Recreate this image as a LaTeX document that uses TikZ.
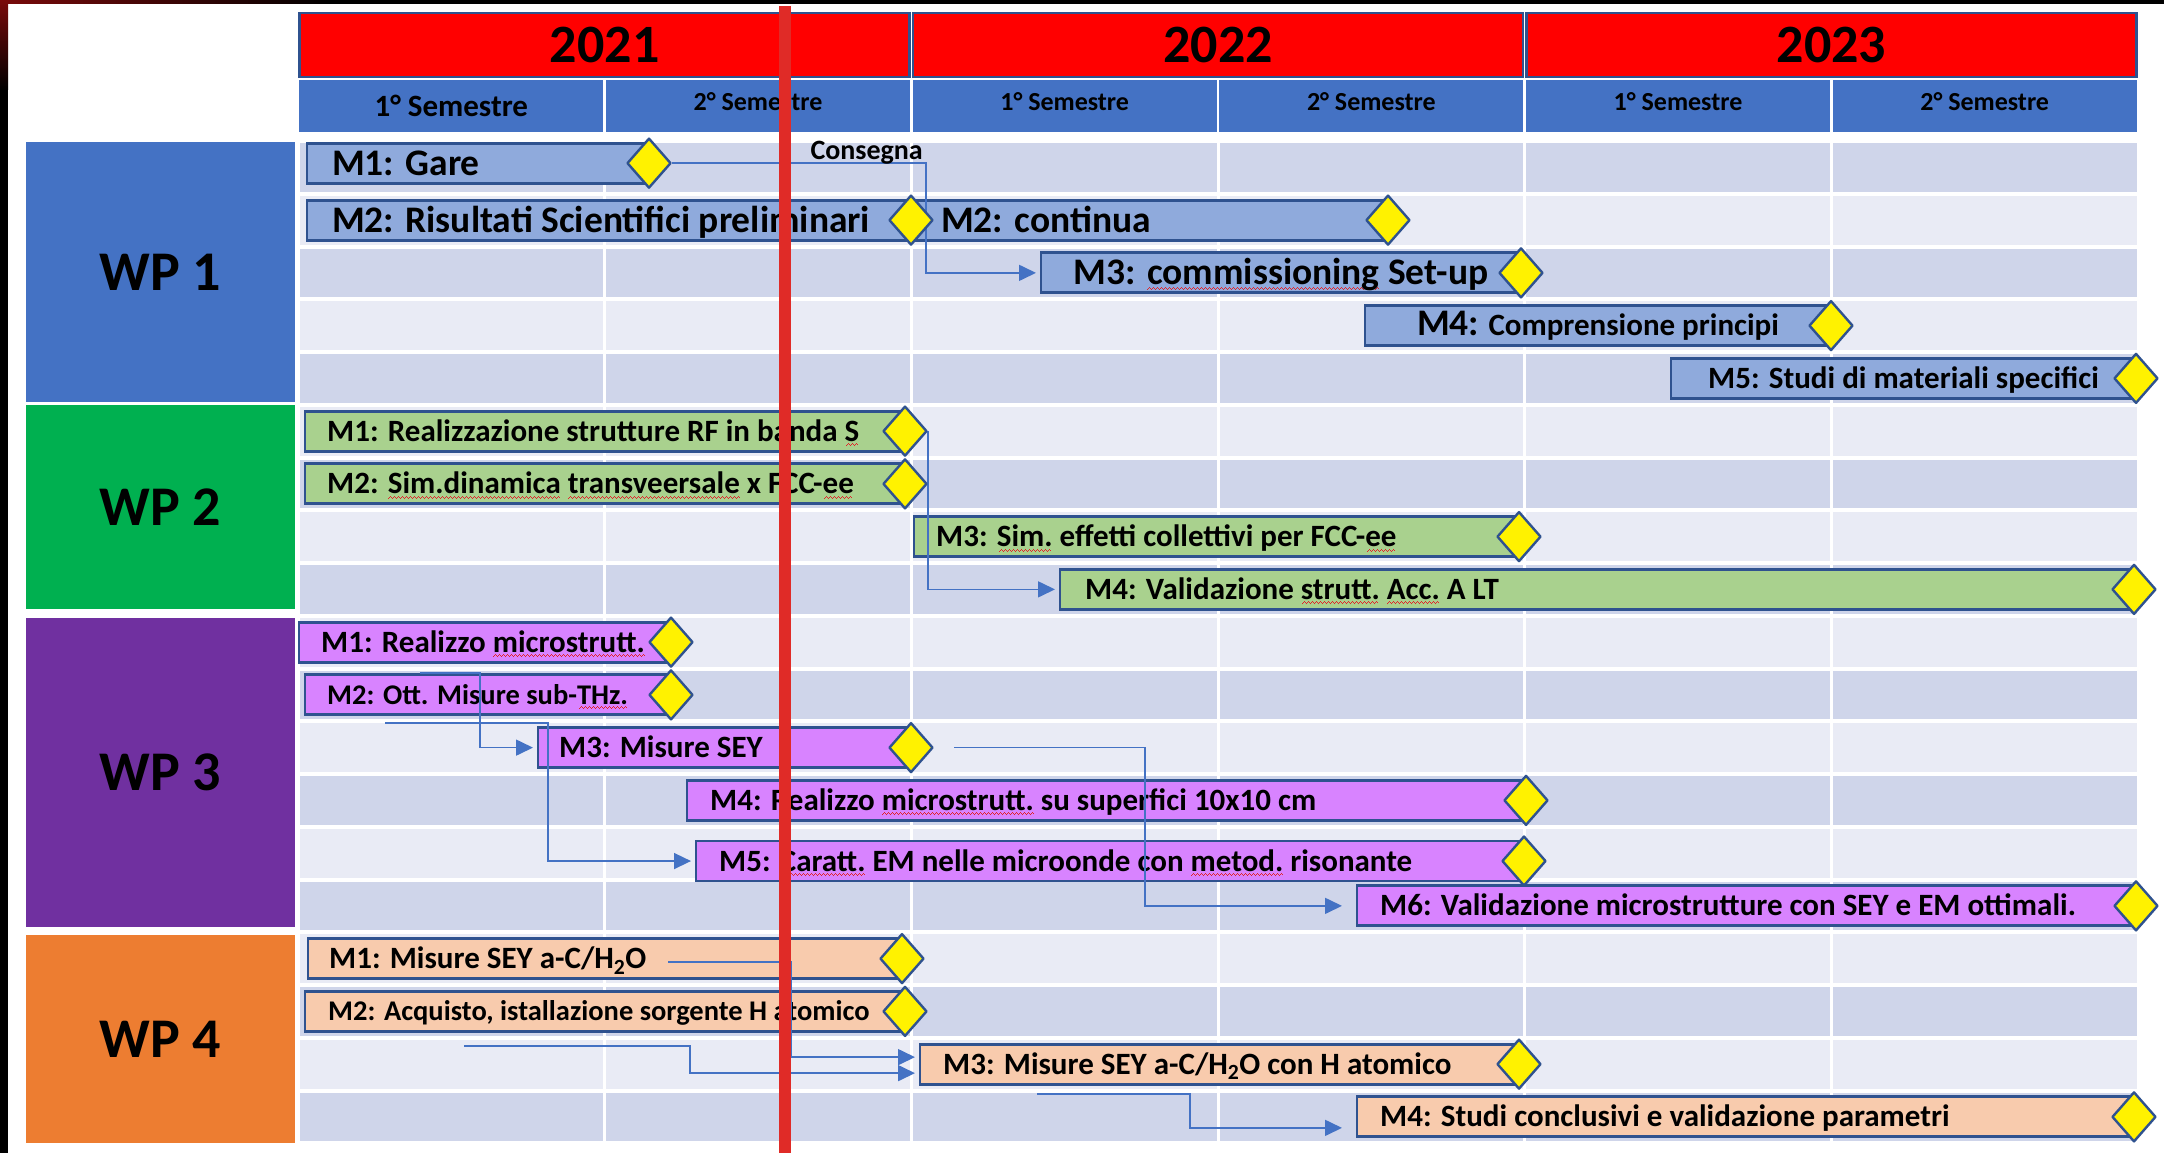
\documentclass[tikz,border=0pt]{standalone}
\usepackage{fontspec}
\setmainfont{Carlito}
\usetikzlibrary{positioning,shapes.geometric,arrows.meta}

\definecolor{annored}{HTML}{FF0000}
\definecolor{headline}{HTML}{2F528F}
\definecolor{semblue}{HTML}{4472C4}
\definecolor{rowdark}{HTML}{CFD5EA}
\definecolor{rowlight}{HTML}{E9EBF5}
\definecolor{wpA}{HTML}{4472C4}
\definecolor{wpB}{HTML}{00B050}
\definecolor{wpC}{HTML}{7030A0}
\definecolor{wpD}{HTML}{ED7D31}
\definecolor{barA}{HTML}{8FAADC}
\definecolor{barB}{HTML}{A9D18E}
\definecolor{barC}{HTML}{D883FF}
\definecolor{barD}{HTML}{F8CBAD}
\definecolor{linkblue}{HTML}{4472C4}
\definecolor{oggi}{HTML}{E02B27}
\definecolor{squig}{HTML}{E0242A}
\definecolor{corner}{HTML}{7A0A0A}

% onda rossa del correttore, fatta di piccoli filetti
\newcommand\wavecell{\hbox{\vrule width1pt height1pt depth0pt\raise1pt\hbox{\vrule width1pt height1pt depth0pt}\raise2pt\hbox{\vrule width1pt height1pt depth0pt}\raise1pt\hbox{\vrule width1pt height1pt depth0pt}}}
\newcommand\spell[1]{\setbox0\hbox{#1}\rlap{\smash{\lower5pt\hbox to\wd0{\color{squig}\cleaders\wavecell\hfil}}}\box0\relax}

\pgfdeclarelayer{bg}
\pgfdeclarelayer{links}
\pgfsetlayers{bg,links,main}

\begin{document}
\begin{tikzpicture}[x=1pt,y=-1pt,line join=round,
	declare function={yrow(\rw)=141+52.75*(\rw-0.5); xcol(\c)=298+306.67*\c;},
	year/.style={fill=annored,draw=headline,line width=2.5pt,minimum width=610pt,minimum height=64pt,inner sep=0pt,font=\fontsize{54}{60}\selectfont\bfseries},
	wpbox/.style={fill=#1,minimum width=269pt,inner sep=0pt,font=\fontsize{56}{60}\selectfont\bfseries},
	bar/.style={draw=headline,line width=2.8pt,fill=#1,minimum height=40pt,inner sep=0pt,outer sep=0pt,anchor=west},
	ms/.style={diamond,draw=headline,line width=2.4pt,fill=yellow,minimum width=44pt,minimum height=50pt,inner sep=0pt},
	bigtxt/.style={anchor=base west,inner sep=0pt,yshift=-12pt,font=\fontsize{37.5}{40}\selectfont\bfseries},
	txt/.style={anchor=base west,inner sep=0pt,yshift=-10pt,font=\fontsize{31}{34}\selectfont\bfseries},
	smalltxt/.style={anchor=base west,inner sep=0pt,yshift=-9.2pt,font=\fontsize{28.5}{32}\selectfont\bfseries},
	link/.style={draw=linkblue,line width=1.6pt,-{Triangle[length=17pt,width=16pt]},shorten >=5pt}]
	\useasboundingbox (0,0) rectangle (2164,1153);
	\begin{pgfonlayer}{bg}
		\fill[white] (0,0) rectangle (2164,1153);
		\fill[black] (0,0) rectangle (2164,4);
		\fill[black] (0,0) rectangle (8,1153);
		\shade[left color=corner,right color=black] (0,0) rectangle (330,4);
		\shade[top color=corner,bottom color=black] (0,0) rectangle (8,90);
		% anni e semestri
		\foreach \k/\yr in {0/2021,1/2022,2/2023}
			\node[year] (y\yr) at ({xcol(2*\k+1)},45) {\yr};
		\foreach \c in {0,...,5}
			\fill[semblue] ({xcol(\c)+1.2},80) rectangle ({xcol(\c+1)-1.2},132);
		\node[font=\fontsize{31}{34}\selectfont\bfseries] (s0) at ({xcol(0.5)},106) {1° Semestre};
		\foreach \c/\k in {1/2,2/1,3/2,4/1,5/2}
			\node[font=\fontsize{26}{30}\selectfont\bfseries] (s\c) at ({xcol(\c+0.5)},102) {\k° Semestre};
		% griglia
		\foreach \rw in {0,2,...,18}
			\foreach \c in {0,...,5}
				\fill[rowdark] ({xcol(\c)+1.5},{141+52.75*\rw+2}) rectangle ({xcol(\c+1)-1.5},{141+52.75*(\rw+1)-2});
		\foreach \rw in {1,3,...,17}
			\foreach \c in {0,...,5}
				\fill[rowlight] ({xcol(\c)+1.5},{141+52.75*\rw+2}) rectangle ({xcol(\c+1)-1.5},{141+52.75*(\rw+1)-2});
		\foreach \w/\ya/\yb/\col in {1/142/402/wpA,2/405/609/wpB,3/618/927/wpC,4/935/1143/wpD}
			\node[wpbox=\col,minimum height={(\yb-\ya)*1pt}] (wp\w) at (160.5,{(\ya+\yb)/2}) {WP \w};
		% WP 1
		\foreach \n/\xa/\xb/\rw in {11/307/649/0.92,12/307/911/2,12c/911/1388/2,13/1041/1521/3,14/1365/1831/4,15/1671/2136/5}
			\node[bar=barA,minimum width={(\xb-\xa)*1pt}] (b\n) at (\xa,{yrow(\rw)}) {};
		\node[bigtxt] (t11) at ([xshift=25pt]b11.west) {M1: Gare};
		\node[bigtxt] (t12) at ([xshift=25pt]b12.west) {M2: Risultati Scientifici preliminari};
		\node[bigtxt] (t12c) at ([xshift=30pt]b12c.west) {M2: continua};
		\node[bigtxt,anchor=base] (t13) at (b13.center) {M3: \spell{commissioning} Set-up};
		\node[txt,anchor=base] (t14) at (b14.center) {{\fontsize{37.5}{40}\selectfont M4:} Comprensione principi};
		\node[txt,anchor=base] (t15) at (b15.center) {M5: Studi di materiali specifici};
		% WP 2
		\foreach \n/\xa/\xb/\rw in {21/305/905/6,22/305/905/7,23/914/1519/8,24/1060/2134/9}
			\node[bar=barB,minimum width={(\xb-\xa)*1pt}] (b\n) at (\xa,{yrow(\rw)}) {};
		\node[txt] (t21) at ([xshift=22pt]b21.west) {M1: Realizzazione strutture RF in banda \spell{S}};
		\node[txt] (t22) at ([xshift=22pt]b22.west) {M2: \spell{Sim.dinamica} \spell{transveersale} x FCC-\spell{ee}};
		\node[txt] (t23) at ([xshift=22pt]b23.west) {M3: \spell{Sim.} effetti collettivi per FCC-\spell{ee}};
		\node[txt] (t24) at ([xshift=25pt]b24.west) {M4: Validazione \spell{strutt.} \spell{Acc.} A LT};
		% WP 3
		\foreach \n/\xa/\xb/\rw in {31/299/671/10,32/305/671/11,33/538/911/12,34/687/1526/13,35/696/1524/14.15,36/1357/2136/15}
			\node[bar=barC,minimum width={(\xb-\xa)*1pt}] (b\n) at (\xa,{yrow(\rw)}) {};
		\node[txt] (t31) at ([xshift=22pt]b31.west) {M1: Realizzo \spell{microstrutt.}};
		\node[smalltxt] (t32) at ([xshift=22pt]b32.west) {M2: Ott. Misure sub-\spell{THz.}};
		\node[txt] (t33) at ([xshift=21pt]b33.west) {M3: Misure SEY};
		\node[txt] (t34) at ([xshift=23pt]b34.west) {M4: Realizzo \spell{microstrutt.} su superfici 10x10 cm};
		\node[txt] (t35) at ([xshift=23pt]b35.west) {M5: \spell{Caratt.} EM nelle microonde con \spell{metod.} risonante};
		\node[txt] (t36) at ([xshift=23pt]b36.west) {M6: Validazione microstrutture con SEY e EM ottimali.};
		% WP 4
		\foreach \n/\xa/\xb/\rw in {41/308/902/16,42/305/905/17,43/920/1519/18,44/1357/2134/19}
			\node[bar=barD,minimum width={(\xb-\xa)*1pt}] (b\n) at (\xa,{yrow(\rw)}) {};
		\node[txt] (t41) at ([xshift=21pt]b41.west) {M1: Misure SEY a-C/H\textsubscript{2}O};
		\node[smalltxt] (t42) at ([xshift=23pt]b42.west) {M2: Acquisto, istallazione sorgente H atomico};
		\node[txt] (t43) at ([xshift=23pt]b43.west) {M3: Misure SEY a-C/H\textsubscript{2}O con H atomico};
		\node[txt] (t44) at ([xshift=23pt]b44.west) {M4: Studi conclusivi e validazione parametri};
	\end{pgfonlayer}
	% milestone
	\foreach \n in {11,12,12c,13,14,15,21,22,23,24,31,32,33,34,35,36,41,42,43,44}
		\node[ms] (d\n) at (b\n.east) {};
	\begin{pgfonlayer}{links}
		\coordinate (kc) at ([xshift=15pt]d12.center |- d11.east);
		\draw[link] (d11.east) -- (kc) |- (b13.west);
		\node[font=\fontsize{28}{30}\selectfont\bfseries,anchor=base east,inner sep=0pt] (cons) at ([shift={(-3pt,4pt)}]kc) {Consegna};
		\draw[link] (d21.east) |- (b24.west);
		\coordinate (s31) at (420,673);
		\draw[link] (s31) -| ([xshift=-58pt]b33.west) -- (b33.west);
		\coordinate (s32) at (385,723);
		\draw[link] (s32) -| ([xshift=-148pt]b35.west) -- (b35.west);
		\draw[link,shorten >=15pt] ([xshift=20pt]d33.east) -| ([xshift=-212pt]b36.west) -- (b36.west);
		\coordinate (s41) at (668,962);
		\draw[link] (s41) -| ([shift={(-129pt,7pt)}]b43.west) -- ([yshift=7pt]b43.west);
		\coordinate (s42) at (464,1046);
		\draw[link] (s42) -| ([shift={(-230pt,-9pt)}]b43.west) -- ([yshift=-9pt]b43.west);
		\coordinate (s43) at (1037,1094);
		\draw[link,shorten >=15pt] (s43) -| ([shift={(-167pt,-11pt)}]b44.west) -- ([yshift=-11pt]b44.west);
	\end{pgfonlayer}
	\draw[oggi,line width=12pt] (785,6) -- (785,1153);
\end{tikzpicture}
\end{document}
